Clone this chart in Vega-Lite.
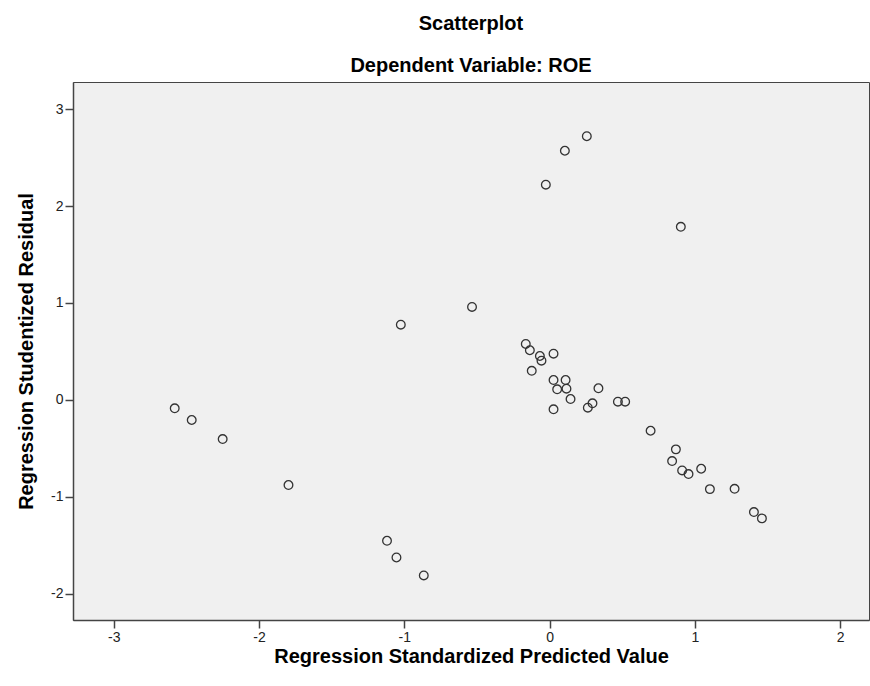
{
  "$schema": "https://vega.github.io/schema/vega-lite/v6.json",
  "autosize": {"type": "none"},
  "padding": {"left": 73, "top": 82, "right": 1, "bottom": 66},
  "width": 796,
  "height": 538,
  "background": "white",
  "title": {
    "text": "Scatterplot",
    "subtitle": "Dependent Variable: ROE",
    "anchor": "middle",
    "font": "Liberation Sans",
    "fontSize": 20,
    "fontWeight": "bold",
    "color": "#000000",
    "subtitleFont": "Liberation Sans",
    "subtitleFontSize": 20,
    "subtitleFontWeight": "bold",
    "subtitleColor": "#000000",
    "subtitlePadding": 22,
    "offset": 6
  },
  "config": {
    "view": {"fill": "#F0F0F0", "stroke": "#444444", "strokeWidth": 1},
    "axis": {
      "grid": false,
      "labelFont": "Liberation Sans",
      "labelFontSize": 14,
      "labelColor": "#222222",
      "tickSize": 8,
      "tickColor": "#444444",
      "tickWidth": 1.5,
      "domainColor": "#444444",
      "domainWidth": 1.5,
      "titleFont": "Liberation Sans",
      "titleFontSize": 20,
      "titleFontWeight": "bold",
      "titleColor": "#000000"
    }
  },
  "data": {
    "values": [
      {"pred": -0.534, "resid": 0.959},
      {"pred": -0.164, "resid": 0.577},
      {"pred": -0.136, "resid": 0.512},
      {"pred": -0.067, "resid": 0.453},
      {"pred": -0.056, "resid": 0.405},
      {"pred": 0.027, "resid": 0.477},
      {"pred": -0.123, "resid": 0.30},
      {"pred": 0.027, "resid": 0.205},
      {"pred": 0.11, "resid": 0.205},
      {"pred": 0.052, "resid": 0.109},
      {"pred": 0.116, "resid": 0.116},
      {"pred": 0.336, "resid": 0.12},
      {"pred": 0.144, "resid": 0.009},
      {"pred": 0.027, "resid": -0.097},
      {"pred": 0.295, "resid": -0.035},
      {"pred": 0.263, "resid": -0.08},
      {"pred": 0.47, "resid": -0.018},
      {"pred": 0.52, "resid": -0.018},
      {"pred": 0.695, "resid": -0.318},
      {"pred": 0.869, "resid": -0.51},
      {"pred": 0.843, "resid": -0.631},
      {"pred": 0.912, "resid": -0.727},
      {"pred": 0.956, "resid": -0.765},
      {"pred": 1.043, "resid": -0.71},
      {"pred": 1.103, "resid": -0.92},
      {"pred": 1.273, "resid": -0.917},
      {"pred": 1.406, "resid": -1.157},
      {"pred": 1.461, "resid": -1.222},
      {"pred": -1.024, "resid": 0.776},
      {"pred": -2.58, "resid": -0.087},
      {"pred": -2.463, "resid": -0.207},
      {"pred": -2.25, "resid": -0.404},
      {"pred": -1.797, "resid": -0.878},
      {"pred": -1.119, "resid": -1.453},
      {"pred": -1.054, "resid": -1.625},
      {"pred": -0.866, "resid": -1.81},
      {"pred": -0.026, "resid": 2.22},
      {"pred": 0.105, "resid": 2.57},
      {"pred": 0.256, "resid": 2.72},
      {"pred": 0.903, "resid": 1.785}
    ]
  },
  "mark": {"type": "point", "shape": "circle", "filled": false, "stroke": "#333333", "strokeWidth": 1.3, "size": 75, "opacity": 1},
  "encoding": {
    "x": {
      "field": "pred",
      "type": "quantitative",
      "scale": {"domain": [-3.28, 2.198], "nice": false, "zero": false},
      "axis": {"values": [-3, -2, -1, 0, 1, 2], "labelExpr": "datum.value + ''", "title": "Regression Standardized Predicted Value", "labelPadding": 2, "titlePadding": 2}
    },
    "y": {
      "field": "resid",
      "type": "quantitative",
      "scale": {"domain": [-2.27, 3.279], "nice": false, "zero": false},
      "axis": {"values": [-2, -1, 0, 1, 2, 3], "labelExpr": "datum.value + ''", "title": "Regression Studentized Residual", "labelPadding": 2, "titlePadding": 14}
    }
  }
}
